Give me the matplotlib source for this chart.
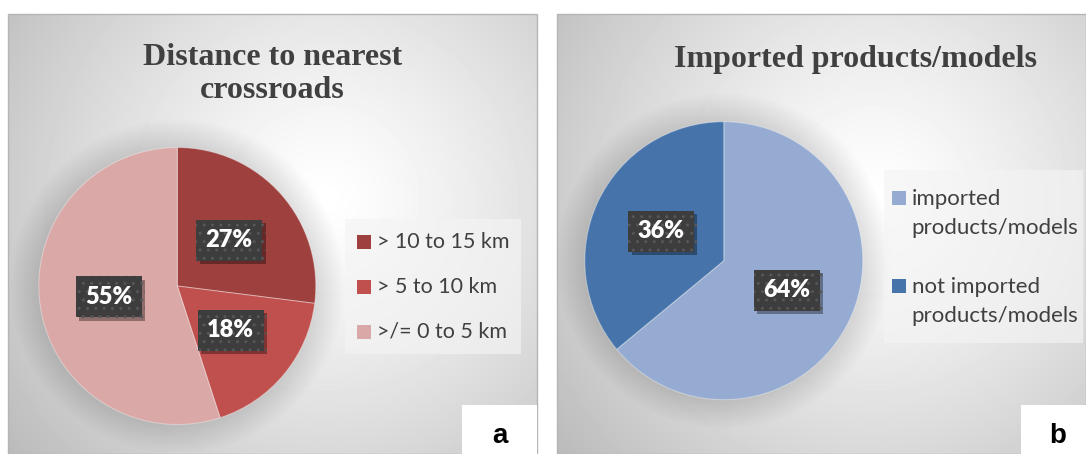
import numpy as np
import matplotlib.pyplot as plt
from matplotlib.patches import Rectangle, Circle
import matplotlib.patheffects as pe

# chart a: distance to nearest crossroads
dist_labels = ['> 10 to 15 km', '> 5 to 10 km', '>/= 0 to 5 km']
dist_values = [27, 18, 55]
dist_colors = ['#9e403d', '#c0504d', '#d9a8a7']

# chart b: imported products/models
imp_labels = ['imported\nproducts/models', 'not imported\nproducts/models']
imp_values = [64, 36]
imp_colors = ['#95abd1', '#4674aa']

W, H = 1086, 454
TXT = '#404040'

fig = plt.figure(figsize=(W / 100, H / 100), dpi=100)
ax = fig.add_axes([0, 0, 1, 1])


def Y(y):
    # pixel rows are counted from the top
    return H - y


def panel(x0, x1, top, bottom):
    nx, ny = int(x1 - x0), int(bottom - top)
    xx, yy = np.meshgrid(np.arange(nx), np.arange(ny))
    cx, cy = 0.6 * nx, 0.42 * ny
    d = np.hypot(xx - cx, yy - cy)
    d = d / d.max()
    val = 1.0 - 0.27 * d ** 1.25
    ax.imshow(val, cmap='gray', vmin=0, vmax=1, extent=(x0, x1, Y(bottom), Y(top)),
              origin='upper', zorder=0, interpolation='bilinear')
    ax.add_patch(Rectangle((x0, Y(bottom)), x1 - x0, bottom - top, fill=False,
                           ec='#b5b5b5', lw=1, zorder=0.2))


def draw_pie(values, colors, cx, cy, r):
    # soft halo under the pie
    for k in range(1, 30):
        ax.add_patch(Circle((cx, Y(cy)), r + k, fc='black', alpha=0.0055, lw=0, zorder=0.5))
    wedges, _, autotexts = ax.pie(values, colors=colors, startangle=90, counterclock=False,
                                  center=(cx, Y(cy)), radius=r, frame=True,
                                  autopct='%1.0f%%', pctdistance=0.5,
                                  wedgeprops=dict(linewidth=0.8, edgecolor=(1, 1, 1, 0.35)),
                                  textprops=dict(color='white', fontsize=17,
                                                 fontweight='heavy', family='Lato'))
    for t in autotexts:
        t.set_bbox(dict(boxstyle='square,pad=0.4', fc='#3d3d3d', ec='#565656',
                        lw=0, hatch='..'))
        t.get_bbox_patch().set_path_effects([
            pe.SimplePatchShadow(offset=(2.5, -2.5), shadow_rgbFace='black', alpha=0.35),
            pe.Normal()])
    return wedges


def legend_box(x0, x1, top, bottom):
    ax.add_patch(Rectangle((x0, Y(bottom)), x1 - x0, bottom - top, fc='#f4f4f4',
                           alpha=0.65, lw=0, zorder=2))


# panels
panel(8, 537, 14, 454)
panel(557, 1086, 14, 454)

# chart a
draw_pie(dist_values, dist_colors, 177.3, 286, 138.5)
ax.text(272.7, Y(74), 'Distance to nearest\ncrossroads', ha='center', va='center',
        family='Liberation Serif', fontweight='bold', fontsize=23, color=TXT,
        linespacing=1.2)
legend_box(344.6, 520.5, 219, 354)
for i, (lab, col) in enumerate(zip(dist_labels, dist_colors)):
    yc = 242 + 45 * i
    ax.add_patch(Rectangle((356.7, Y(yc + 7)), 14, 14, fc=col, lw=0, zorder=3))
    ax.text(376.8, Y(yc), lab, ha='left', va='center', family='Lato', fontsize=15.5,
            color=TXT, zorder=3)

# chart b
draw_pie(imp_values, imp_colors, 723.8, 260.7, 139)
ax.text(856, Y(59), 'Imported products/models', ha='center', va='center',
        family='Liberation Serif', fontweight='bold', fontsize=23, color=TXT)
legend_box(884, 1083, 170, 343)
for i, (lab, col) in enumerate(zip(imp_labels, imp_colors)):
    y1 = 198 + 88 * i
    ax.add_patch(Rectangle((892, Y(y1 + 7)), 13.6, 14, fc=col, lw=0, zorder=3))
    ax.text(911.8, Y(y1 + 15.5), lab, ha='left', va='center', family='Lato', fontsize=16,
            color=TXT, linespacing=1.62, zorder=3)

# panel letters
for x0, x1, letter, xt in [(462, 537, 'a', 499.5), (1021, 1086, 'b', 1058)]:
    ax.add_patch(Rectangle((x0, Y(454)), x1 - x0, 49, fc='white', lw=0, zorder=4))
    ax.text(xt, Y(443), letter, ha='center', va='baseline', family='Liberation Sans',
            fontweight='bold', fontsize=20, color='black', zorder=5)

ax.set_xlim(0, W)
ax.set_ylim(0, H)
ax.axis('off')

fig.savefig('out.png', dpi=100)
